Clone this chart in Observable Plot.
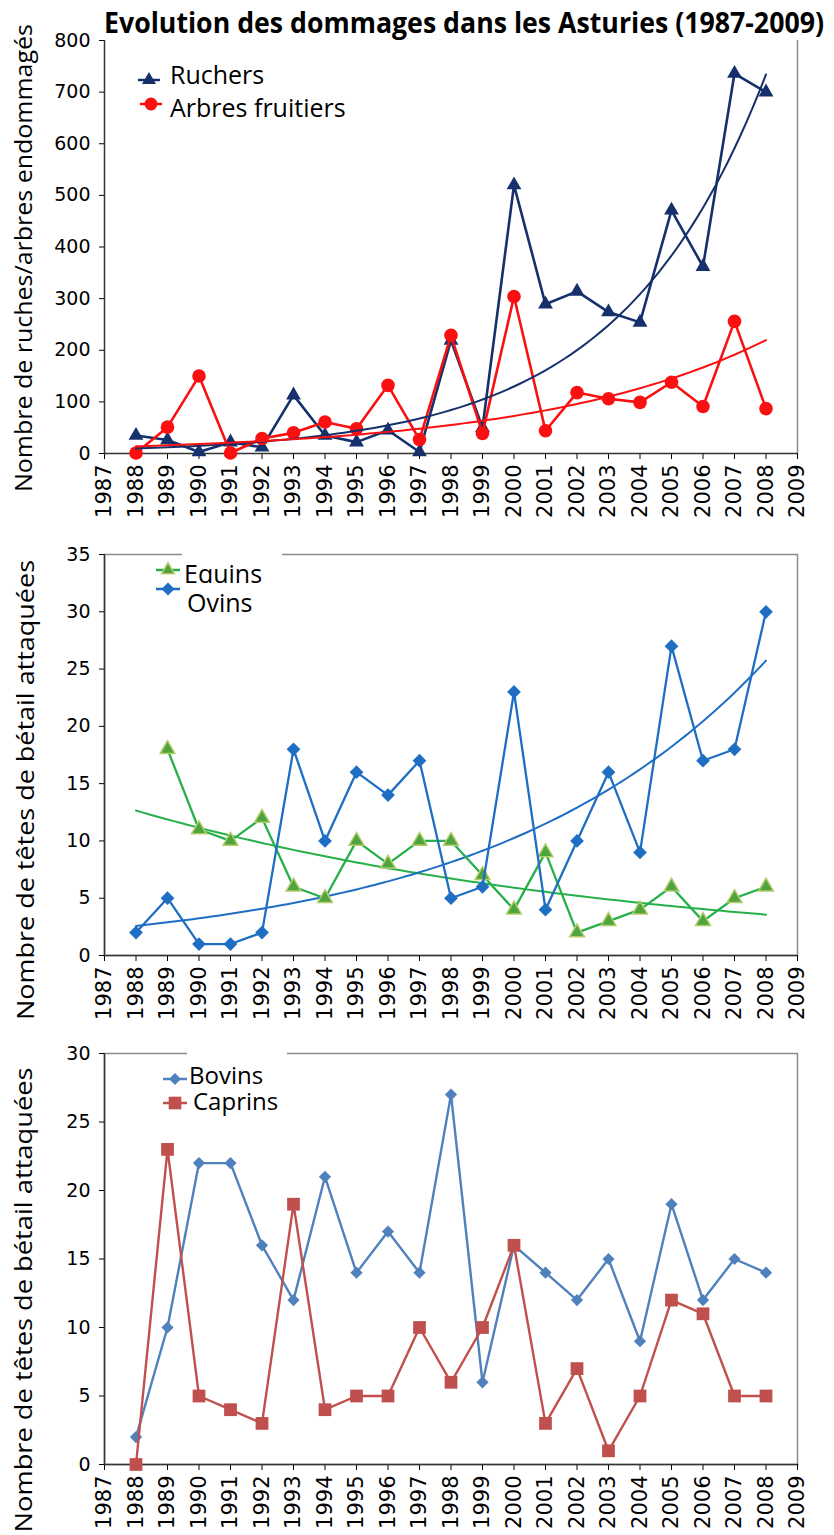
<!DOCTYPE html>
<html><head><meta charset="utf-8">
<script src="https://cdn.jsdelivr.net/npm/d3@7"></script>
<script src="https://cdn.jsdelivr.net/npm/@observablehq/plot@0.6"></script>
<style>
html,body{margin:0;padding:0;background:#fff;}
#root{position:relative;width:834px;height:1535px;overflow:hidden;background:#fff;}
</style></head><body><div id="root"></div>
<script>
// ---- data ----
const years   = [1988,1989,1990,1991,1992,1993,1994,1995,1996,1997,1998,1999,2000,2001,2002,2003,2004,2005,2006,2007,2008];
const ruchers = [35,26,3,22,12,113,35,22,45,3,219,50,520,289,314,274,254,471,362,736,700];
const arbres  = [1,51,150,1,29,40,61,48,132,27,229,39,304,44,118,106,99,138,91,256,87];
const equins  = [null,18,11,10,12,6,5,10,8,10,10,7,4,9,2,3,4,6,3,5,6];
const ovins   = [2,5,1,1,2,18,10,16,14,17,5,6,23,4,10,16,9,27,17,18,30];
const bovins  = [2,10,22,22,16,12,21,14,17,14,27,6,16,14,12,15,9,19,12,15,14];
const caprins = [0,23,5,4,3,19,4,5,5,10,6,10,16,3,7,1,5,12,11,5,5];
const xTicks  = [1987,1988,1989,1990,1991,1992,1993,1994,1995,1996,1997,1998,1999,2000,2001,2002,2003,2004,2005,2006,2007,2008,2009];
const yTicks1 = [0,100,200,300,400,500,600,700,800];
const yTicks2 = [0,5,10,15,20,25,30,35];
const yTicks3 = [0,5,10,15,20,25,30];
const titleText = "Evolution des dommages dans les Asturies (1987-2009)";
const yTitle1 = "Nombre de ruches/arbres endommagés";
const yTitle2 = "Nombre de têtes de bétail attaquées";

const C = {ruchers:"#15306b", arbres:"#fa1010", equinsLine:"#27b04a", equinsFill:"#4fa43f", equinsEdge:"#b3cc6a",
           ovins:"#1e6ec4", bovins:"#4f81bd", caprins:"#c0504d"};

const root = document.getElementById("root");
const W = 834, ML = 104, MR = 37;

function table(ys){ return years.map((y,i)=>({year:y, v:ys[i]})).filter(d=>d.v!=null); }
function expTrend(ys){
  const pts = table(ys).filter(d=>d.v>0);
  const mx = d3.mean(pts,d=>d.year), my = d3.mean(pts,d=>Math.log(d.v));
  const b = d3.sum(pts,d=>(d.year-mx)*(Math.log(d.v)-my))/d3.sum(pts,d=>(d.year-mx)**2);
  const a = my - b*mx;
  return d3.range(years[0], years[years.length-1]+0.001, 0.2).map(x=>({year:x, v:Math.exp(a+b*x)}));
}

function panel(top, height, marginTop, marginBottom, yDomain, yTicks, marks, fullFrame){
  const p = Plot.plot({
    width: W, height, marginLeft: ML, marginRight: MR, marginTop, marginBottom,
    style: {background:"transparent", fontFamily:"'DejaVu Sans', sans-serif", overflow:"visible"},
    x: {domain:[1987,2009]},
    y: {domain:yDomain},
    marks: [
      fullFrame ? Plot.frame({stroke:"#8c8c8c", strokeWidth:1.5})
                : Plot.ruleX([2009], {stroke:"#8c8c8c", strokeWidth:1.5}),
      Plot.axisY({ticks:yTicks, tickSize:5, tickPadding:9, fontSize:19, label:null, tickFormat:d=>String(d)}),
      Plot.axisX({ticks:xTicks, tickSize:6, tickPadding:5, tickRotate:-90, fontSize:21, label:null, tickFormat:d=>String(d)}),
      Plot.ruleY([yDomain[0]], {stroke:"#333", strokeWidth:1.5}),
      Plot.ruleX([1987], {stroke:"#333", strokeWidth:1.5}),
      ...marks
    ]
  });
  p.style.position = "absolute"; p.style.top = top+"px"; p.style.left = "0px";
  root.appendChild(p);
  return p;
}

// Panel 1
panel(0, 535, 40, 82, [0,800], yTicks1, [
  Plot.line(table(ruchers), {x:"year", y:"v", stroke:C.ruchers, strokeWidth:2.6}),
  Plot.dot(table(ruchers), {x:"year", y:"v", symbol:"triangle", r:5.5, fill:C.ruchers}),
  Plot.line(table(arbres), {x:"year", y:"v", stroke:C.arbres, strokeWidth:2.6}),
  Plot.dot(table(arbres), {x:"year", y:"v", r:6.8, fill:C.arbres}),
  Plot.line(expTrend(ruchers), {x:"year", y:"v", stroke:C.ruchers, strokeWidth:2}),
  Plot.line(expTrend(arbres), {x:"year", y:"v", stroke:C.arbres, strokeWidth:2})
], false);

// Panel 2
panel(535, 505, 19, 85, [0,35], yTicks2, [
  Plot.line(expTrend(equins), {x:"year", y:"v", stroke:C.equinsLine, strokeWidth:2}),
  Plot.line(expTrend(ovins), {x:"year", y:"v", stroke:C.ovins, strokeWidth:2}),
  Plot.line(table(equins), {x:"year", y:"v", stroke:C.equinsLine, strokeWidth:2.3}),
  Plot.dot(table(equins), {x:"year", y:"v", symbol:"triangle", r:5.5, fill:C.equinsFill, stroke:C.equinsEdge, strokeWidth:1.5}),
  Plot.line(table(ovins), {x:"year", y:"v", stroke:C.ovins, strokeWidth:2.3}),
  Plot.dot(table(ovins), {x:"year", y:"v", symbol:"diamond2", r:6.2, fill:C.ovins})
], true);

// Panel 3
panel(1040, 495, 13, 71, [0,30], yTicks3, [
  Plot.line(table(bovins), {x:"year", y:"v", stroke:C.bovins, strokeWidth:2.4}),
  Plot.dot(table(bovins), {x:"year", y:"v", symbol:"diamond2", r:5.5, fill:C.bovins}),
  Plot.line(table(caprins), {x:"year", y:"v", stroke:C.caprins, strokeWidth:2.4}),
  Plot.dot(table(caprins), {x:"year", y:"v", symbol:"square", r:7.2, fill:C.caprins})
], true);

// ---- overlay: title, axis titles, legends ----
const ov = d3.select(root).append("svg").attr("width",W).attr("height",1535)
  .style("position","absolute").style("top","0").style("left","0").style("overflow","visible");
const font = "'Open Sans', sans-serif";

const title = ov.append("text").attr("x",0).attr("y",0).text(titleText)
  .attr("font-family",font).attr("font-weight","bold").attr("font-size",28);
const natural = title.node().getComputedTextLength() || 820;
title.attr("transform",`translate(104,33) scale(${720/natural},1)`);

function yTitle(txt, cx, cy, len){
  ov.append("text").attr("transform",`translate(${cx},${cy}) rotate(-90)`)
    .attr("text-anchor","middle").attr("dominant-baseline","central")
    .attr("font-family",font).attr("font-size",24).attr("fill","#000")
    .attr("textLength",len).attr("lengthAdjust","spacingAndGlyphs").text(txt);
}
yTitle(yTitle1, 22, 258, 468);
yTitle(yTitle2, 24, 790, 460);
yTitle(yTitle2, 22, 1300, 465);

function box(x,y,w,h){ ov.append("rect").attr("x",x).attr("y",y).attr("width",w).attr("height",h).attr("fill","#fff"); }
function entry(x1,x2,y,lineColor,sym,size,fill,stroke,label,tx,ty,fs){
  ov.append("line").attr("x1",x1).attr("x2",x2).attr("y1",y).attr("y2",y).attr("stroke",lineColor).attr("stroke-width",2.5);
  ov.append("path").attr("d",d3.symbol(sym,size)()).attr("transform",`translate(${(x1+x2)/2},${y})`)
    .attr("fill",fill).attr("stroke",stroke||"none").attr("stroke-width",1.5);
  ov.append("text").attr("x",tx).attr("y",ty).attr("font-family",font).attr("font-size",fs||25).attr("fill","#000").text(label);
}
// panel 1 legend
entry(138,160,80,C.ruchers,d3.symbolTriangle,85,C.ruchers,null,"Ruchers",170,84);
entry(140,162,104,C.arbres,d3.symbolCircle,130,C.arbres,null,"Arbres fruitiers",170,117);
// panel 2 legend
box(182,545,100,38);
entry(156,180,570,C.equinsLine,d3.symbolTriangle,70,C.equinsFill,C.equinsEdge,"Equins",184,583);
box(183,583,100,36);
entry(156,180,589,C.ovins,d3.symbolDiamond2,110,C.ovins,null,"Ovins",187,612);
// panel 3 legend
box(187,1046,100,14);
entry(163,187,1079,C.bovins,d3.symbolDiamond2,90,C.bovins,null,"Bovins",189,1084,24);
entry(163,187,1103,C.caprins,d3.symbolSquare,160,C.caprins,null,"Caprins",193,1110,24);
</script></body></html>
